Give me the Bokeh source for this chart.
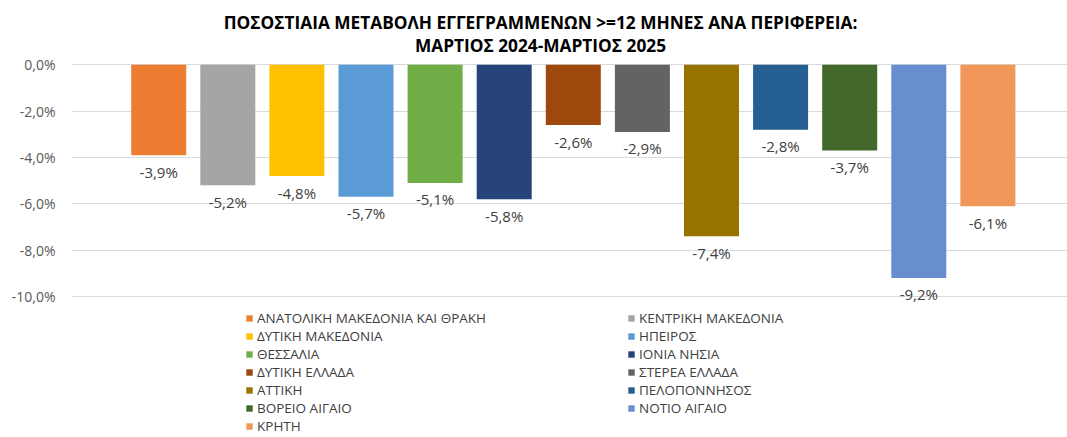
from bokeh.plotting import figure
from bokeh.models import (ColumnDataSource, Legend, LegendItem, FixedTicker, Label, Range1d)
from bokeh.core.properties import value
from bokeh.embed import file_html
from bokeh.resources import INLINE

regions = ["ΑΝΑΤΟΛΙΚΗ ΜΑΚΕΔΟΝΙΑ ΚΑΙ ΘΡΑΚΗ", "ΚΕΝΤΡΙΚΗ ΜΑΚΕΔΟΝΙΑ", "ΔΥΤΙΚΗ ΜΑΚΕΔΟΝΙΑ",
           "ΗΠΕΙΡΟΣ", "ΘΕΣΣΑΛΙΑ", "ΙΟΝΙΑ ΝΗΣΙΑ", "ΔΥΤΙΚΗ ΕΛΛΑΔΑ", "ΣΤΕΡΕΑ ΕΛΛΑΔΑ",
           "ΑΤΤΙΚΗ", "ΠΕΛΟΠΟΝΝΗΣΟΣ", "ΒΟΡΕΙΟ ΑΙΓΑΙΟ", "ΝΟΤΙΟ ΑΙΓΑΙΟ", "ΚΡΗΤΗ"]
values = [-3.9, -5.2, -4.8, -5.7, -5.1, -5.8, -2.6, -2.9, -7.4, -2.8, -3.7, -9.2, -6.1]
colors = ["#ED7D31", "#A5A5A5", "#FFC000", "#5B9BD5", "#70AD47", "#264478", "#9E480E",
          "#636363", "#997300", "#255E91", "#43682B", "#698ED0", "#F1975A"]
y_ticks = [0, -2, -4, -6, -8, -10]
y_tick_labels = ["0,0%", "-2,0%", "-4,0%", "-6,0%", "-8,0%", "-10,0%"]
title_lines = ["ΠΟΣΟΣΤΙΑΙΑ ΜΕΤΑΒΟΛΗ ΕΓΓΕΓΡΑΜΜΕΝΩΝ >=12 ΜΗΝΕΣ ΑΝΑ ΠΕΡΙΦΕΡΕΙΑ:",
               "ΜΑΡΤΙΟΣ 2024-ΜΑΡΤΙΟΣ 2025"]

FONT = "Open Sans"
xs = list(range(len(regions)))
src = ColumnDataSource(dict(
    x=xs, top=values, color=colors, region=regions,
    lbl=[("%.1f%%" % v).replace(".", ",") for v in values]))

p = figure(width=1067, height=437, output_backend="svg", toolbar_location=None,
           x_range=Range1d(-1.262, 13.152), y_range=Range1d(-16.086, 2.775),
           min_border_left=71, min_border_right=0, min_border_top=0, min_border_bottom=0,
           outline_line_color=None, x_axis_location=None)

bars = p.vbar(x="x", top="top", bottom=0, width=0.796, color="color", line_color=None, source=src)
p.text(x="x", y="top", text="lbl", source=src, text_align="center", text_baseline="middle",
       y_offset=16.5, text_font=value(FONT), text_font_size="15px", text_color="#404040")

p.xgrid.grid_line_color = None
p.ygrid.grid_line_color = "#D9D9D9"
p.ygrid.grid_line_width = 1
p.yaxis.ticker = FixedTicker(ticks=y_ticks)
p.yaxis.major_label_overrides = {t: l for t, l in zip(y_ticks, y_tick_labels)}
p.yaxis.axis_line_color = None
p.yaxis.major_tick_line_color = None
p.yaxis.minor_tick_line_color = None
p.yaxis.major_tick_out = 0
p.yaxis.major_tick_in = 0
p.yaxis.major_label_standoff = 16
p.yaxis.major_label_text_font = FONT
p.yaxis.major_label_text_font_size = "14px"
p.yaxis.major_label_text_color = "#595959"

# Title
for line, yy in zip(title_lines, [415, 392]):
    p.add_layout(Label(x=469, y=yy, x_units="screen", y_units="screen", text=line,
                       text_align="center", text_baseline="middle", text_font=FONT,
                       text_font_style="bold", text_font_size="17.3px", text_color="#000000"))

def make_legend(idx, loc):
    items = [LegendItem(label=regions[i], renderers=[bars], index=i) for i in idx]
    return Legend(items=items, location=loc, orientation="vertical",
                  border_line_color=None, background_fill_alpha=0,
                  padding=0, margin=0, spacing=0, label_height=18,
                  glyph_height=8, glyph_width=8, label_standoff=4,
                  label_text_font=FONT, label_text_font_size="13.5px",
                  label_text_color="#404040")

p.add_layout(make_legend([0, 2, 4, 6, 8, 10, 12], (174, 2)))
p.add_layout(make_legend([1, 3, 5, 7, 9, 11], (556, 20)))

open("out.html", "w").write(file_html(p, INLINE))
